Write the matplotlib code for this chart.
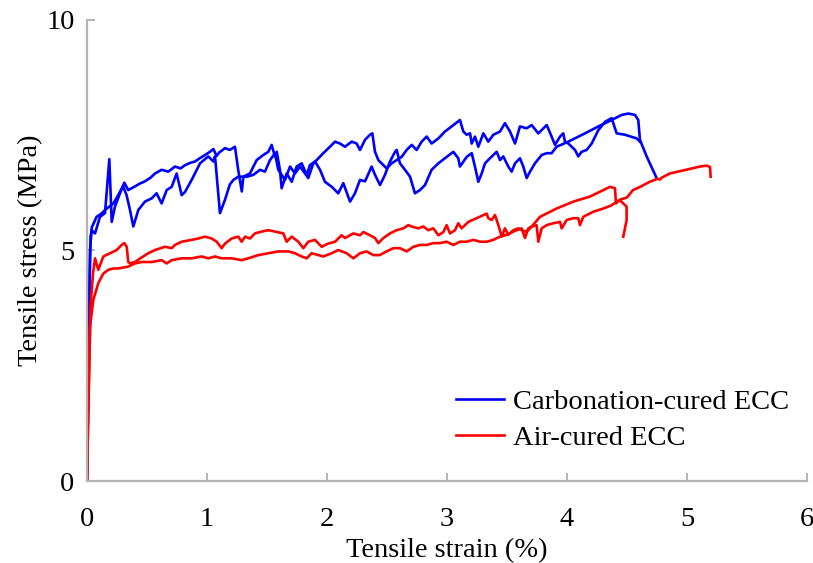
import matplotlib
matplotlib.use("Agg")
from matplotlib import pyplot as plt

# Carbonation-cured ECC, specimen 1 (strain %, stress MPa)
blue_a = [(0, 0), (0.01, 2.0), (0.02, 4.0), (0.03, 5.3), (0.039, 5.44), (0.067, 5.37), (0.108, 5.73),
          (0.15, 5.81), (0.186, 6.98), (0.206, 5.62), (0.233, 5.95), (0.275, 6.24), (0.311, 6.47),
          (0.344, 6.31), (0.40, 6.39), (0.44, 6.45), (0.483, 6.50), (0.53, 6.58), (0.567, 6.67),
          (0.622, 6.75), (0.678, 6.71), (0.733, 6.82), (0.78, 6.78), (0.817, 6.85), (0.86, 6.90),
          (0.90, 6.93), (0.94, 7.0), (0.983, 7.07), (1.025, 7.14), (1.053, 7.20), (1.08, 7.05),
          (1.10, 7.12), (1.15, 7.22), (1.19, 7.18), (1.233, 7.25), (1.26, 6.75), (1.29, 6.28),
          (1.303, 6.60), (1.358, 6.67), (1.414, 6.96), (1.469, 7.07), (1.511, 7.14), (1.539, 7.29),
          (1.567, 7.03), (1.581, 7.14), (1.608, 6.75), (1.622, 6.35), (1.664, 6.67), (1.706, 6.49),
          (1.747, 6.82), (1.789, 6.89), (1.831, 6.64), (1.858, 6.85), (1.90, 6.93), (1.942, 6.75),
          (1.983, 6.49), (2.04, 6.38), (2.094, 6.24), (2.136, 6.46), (2.192, 6.06), (2.233, 6.24),
          (2.275, 6.53), (2.317, 6.50), (2.372, 6.82), (2.40, 6.64), (2.442, 6.42), (2.483, 6.64),
          (2.525, 6.93), (2.567, 7.14), (2.581, 7.18), (2.608, 6.89), (2.65, 6.75), (2.692, 6.60),
          (2.733, 6.24), (2.775, 6.31), (2.817, 6.42), (2.872, 6.75), (2.928, 6.89), (2.983, 7.0),
          (3.053, 7.14), (3.094, 7.0), (3.108, 6.82), (3.164, 7.03), (3.206, 7.11), (3.233, 6.82),
          (3.261, 6.49), (3.289, 6.67), (3.317, 6.89), (3.358, 7.0), (3.414, 7.14), (3.442, 6.96),
          (3.469, 7.04), (3.511, 6.82), (3.539, 6.71), (3.567, 6.89), (3.608, 7.0), (3.636, 6.82),
          (3.664, 6.57), (3.692, 6.71), (3.733, 6.89), (3.789, 7.07), (3.831, 7.11), (3.872, 7.11),
          (3.914, 7.25), (4.011, 7.36), (4.15, 7.54), (4.261, 7.69), (4.372, 7.83), (4.456, 7.94),
          (4.511, 7.97), (4.567, 7.94), (4.594, 7.83), (4.608, 7.40), (4.664, 7.04), (4.747, 6.57)]

# Carbonation-cured ECC, specimen 2
blue_b = [(0, 0), (0.01, 2.5), (0.025, 5.0), (0.04, 5.5), (0.08, 5.73), (0.12, 5.80), (0.16, 5.90),
          (0.22, 6.02), (0.26, 6.20), (0.30, 6.40), (0.33, 6.20), (0.358, 5.88), (0.386, 5.52),
          (0.428, 5.88), (0.483, 6.06), (0.539, 6.13), (0.58, 6.24), (0.622, 6.02), (0.664, 6.31),
          (0.706, 6.38), (0.747, 6.67), (0.789, 6.20), (0.817, 6.27), (0.872, 6.53), (0.942, 6.89),
          (1.011, 7.04), (1.053, 6.93), (1.067, 7.04), (1.108, 5.81), (1.15, 6.10), (1.19, 6.43),
          (1.22, 6.53), (1.26, 6.60), (1.331, 6.60), (1.386, 6.64), (1.442, 6.75), (1.483, 6.71),
          (1.525, 6.96), (1.567, 7.11), (1.594, 6.75), (1.65, 6.53), (1.692, 6.82), (1.733, 6.67),
          (1.775, 6.82), (1.817, 6.67), (1.844, 6.57), (1.886, 6.89), (1.914, 6.96), (1.969, 7.11),
          (2.025, 7.25), (2.067, 7.36), (2.108, 7.32), (2.15, 7.25), (2.206, 7.36), (2.247, 7.32),
          (2.275, 7.18), (2.317, 7.40), (2.358, 7.51), (2.378, 7.54), (2.40, 7.14), (2.428, 6.96),
          (2.497, 6.78), (2.539, 6.89), (2.622, 7.03), (2.664, 7.18), (2.706, 7.29), (2.747, 7.18),
          (2.789, 7.36), (2.831, 7.47), (2.872, 7.32), (2.928, 7.43), (2.983, 7.58), (3.039, 7.69),
          (3.108, 7.83), (3.136, 7.58), (3.164, 7.51), (3.192, 7.54), (3.206, 7.32), (3.233, 7.47),
          (3.261, 7.25), (3.303, 7.54), (3.344, 7.36), (3.386, 7.51), (3.442, 7.58), (3.483, 7.76),
          (3.525, 7.58), (3.567, 7.32), (3.608, 7.69), (3.664, 7.65), (3.706, 7.72), (3.761, 7.54),
          (3.831, 7.72), (3.872, 7.47), (3.90, 7.29), (3.942, 7.47), (3.969, 7.54), (3.983, 7.36),
          (4.011, 7.32), (4.067, 7.18), (4.094, 7.04), (4.122, 7.14), (4.164, 7.18), (4.206, 7.32),
          (4.261, 7.61), (4.317, 7.79), (4.372, 7.87), (4.414, 7.54), (4.483, 7.51), (4.581, 7.43),
          (4.608, 7.36)]

# Air-cured ECC, specimen 1
red_a = [(0, 0), (0.015, 2.0), (0.03, 3.8), (0.05, 4.5), (0.067, 4.83), (0.094, 4.58), (0.136, 4.87),
         (0.192, 4.94), (0.247, 5.01), (0.289, 5.12), (0.311, 5.16), (0.331, 5.08), (0.344, 4.75),
         (0.358, 4.72), (0.40, 4.75), (0.45, 4.84), (0.511, 4.94), (0.567, 5.01), (0.65, 5.08),
         (0.706, 5.05), (0.733, 5.12), (0.789, 5.19), (0.872, 5.23), (0.928, 5.26), (0.983, 5.30),
         (1.039, 5.26), (1.081, 5.19), (1.122, 5.05), (1.15, 5.15), (1.206, 5.26), (1.261, 5.30),
         (1.289, 5.19), (1.317, 5.30), (1.358, 5.26), (1.40, 5.37), (1.456, 5.41), (1.511, 5.44),
         (1.567, 5.41), (1.636, 5.37), (1.664, 5.19), (1.706, 5.30), (1.761, 5.19), (1.803, 5.05),
         (1.844, 5.19), (1.90, 5.23), (1.956, 5.08), (2.011, 5.15), (2.067, 5.19), (2.122, 5.33),
         (2.15, 5.27), (2.22, 5.37), (2.275, 5.33), (2.303, 5.40), (2.358, 5.33), (2.40, 5.27),
         (2.428, 5.16), (2.47, 5.27), (2.525, 5.37), (2.58, 5.44), (2.636, 5.48), (2.678, 5.55),
         (2.706, 5.52), (2.761, 5.48), (2.803, 5.52), (2.844, 5.44), (2.886, 5.48), (2.928, 5.33),
         (2.97, 5.40), (2.997, 5.55), (3.025, 5.37), (3.067, 5.44), (3.094, 5.59), (3.122, 5.48),
         (3.178, 5.62), (3.247, 5.70), (3.331, 5.80), (3.344, 5.70), (3.372, 5.66), (3.40, 5.77),
         (3.428, 5.55), (3.456, 5.30), (3.483, 5.48), (3.511, 5.34), (3.553, 5.44), (3.594, 5.48),
         (3.65, 5.41), (3.678, 5.44), (3.706, 5.52), (3.775, 5.73), (3.914, 5.91), (4.053, 6.06),
         (4.192, 6.17), (4.303, 6.31), (4.358, 6.38), (4.40, 6.35), (4.408, 6.02), (4.44, 6.10),
         (4.50, 6.15), (4.55, 6.31), (4.61, 6.38), (4.69, 6.49), (4.75, 6.55), (4.775, 6.54),
         (4.79, 6.58), (4.858, 6.67), (4.942, 6.72), (5.025, 6.77), (5.108, 6.82), (5.164, 6.84),
         (5.192, 6.81), (5.197, 6.60)]

# Air-cured ECC, specimen 2
red_b = [(0, 0), (0.01, 1.5), (0.025, 3.35), (0.053, 3.93), (0.094, 4.29), (0.136, 4.50), (0.178, 4.58),
         (0.22, 4.61), (0.261, 4.61), (0.344, 4.65), (0.40, 4.72), (0.456, 4.75), (0.539, 4.75),
         (0.622, 4.79), (0.664, 4.72), (0.706, 4.79), (0.789, 4.83), (0.872, 4.83), (0.956, 4.87),
         (1.011, 4.83), (1.067, 4.87), (1.122, 4.83), (1.206, 4.83), (1.289, 4.79), (1.344, 4.83),
         (1.428, 4.90), (1.511, 4.94), (1.594, 4.98), (1.678, 4.98), (1.733, 4.94), (1.789, 4.87),
         (1.831, 4.83), (1.872, 4.94), (1.928, 4.90), (1.969, 4.87), (2.039, 4.94), (2.094, 5.01),
         (2.164, 4.94), (2.22, 4.83), (2.275, 4.94), (2.33, 4.98), (2.386, 4.90), (2.44, 4.90),
         (2.497, 4.98), (2.553, 5.05), (2.608, 5.05), (2.664, 4.98), (2.72, 5.08), (2.775, 5.12),
         (2.831, 5.12), (2.886, 5.16), (2.942, 5.16), (2.997, 5.19), (3.053, 5.12), (3.108, 5.19),
         (3.164, 5.19), (3.22, 5.23), (3.275, 5.19), (3.331, 5.19), (3.386, 5.23), (3.442, 5.30),
         (3.497, 5.34), (3.553, 5.41), (3.622, 5.48), (3.65, 5.27), (3.678, 5.48), (3.706, 5.52),
         (3.747, 5.55), (3.761, 5.19), (3.789, 5.48), (3.831, 5.55), (3.886, 5.59), (3.942, 5.62),
         (3.956, 5.48), (3.997, 5.66), (4.053, 5.70), (4.094, 5.70), (4.108, 5.55), (4.136, 5.73),
         (4.219, 5.84), (4.303, 5.91), (4.372, 5.98), (4.414, 6.06), (4.44, 6.09), (4.469, 6.02),
         (4.497, 5.95), (4.497, 5.66), (4.469, 5.30)]

labels = ["Carbonation-cured ECC", "Air-cured ECC"]
x_ticks = [0, 1, 2, 3, 4, 5, 6]
y_ticks = [0, 5, 10]

plt.rcParams['font.family'] = ['Liberation Serif', 'DejaVu Serif']
plt.rcParams['font.size'] = 20.5

fig = plt.figure(figsize=(8.13, 5.63), dpi=100)
ax = fig.add_axes([0.107, 0.1456, 0.8856, 0.819])

lw = 1.9
ax.plot(*zip(*blue_a), color='#0000ff', lw=lw, label=labels[0])
ax.plot(*zip(*blue_b), color='#0000ff', lw=lw)
ax.plot(*zip(*red_a), color='#ff0000', lw=lw, label=labels[1])
ax.plot(*zip(*red_b), color='#ff0000', lw=lw)

ax.set_xlim(0, 6)
ax.set_ylim(0, 10)
ax.set_xticks(x_ticks)
ax.set_yticks(y_ticks)

grey = '#b4b4b4'
for s in ['top', 'right']:
    ax.spines[s].set_visible(False)
for s in ['left', 'bottom']:
    ax.spines[s].set_color(grey)
    ax.spines[s].set_linewidth(1.6)
ax.tick_params(direction='in', length=6, width=1.4, color=grey)
ax.tick_params(axis='x', pad=19)
ax.tick_params(axis='y', pad=9)

ax.set_xlabel("Tensile strain (%)", labelpad=4)
ax.set_ylabel("Tensile stress (MPa)", labelpad=2)

ax.legend(loc='upper left', bbox_to_anchor=(0.5125, 0.2), frameon=False,
          borderpad=0, borderaxespad=0, handlelength=1.7, handletextpad=0.3,
          labelspacing=0.37)

plt.savefig("out.png", dpi=100)
